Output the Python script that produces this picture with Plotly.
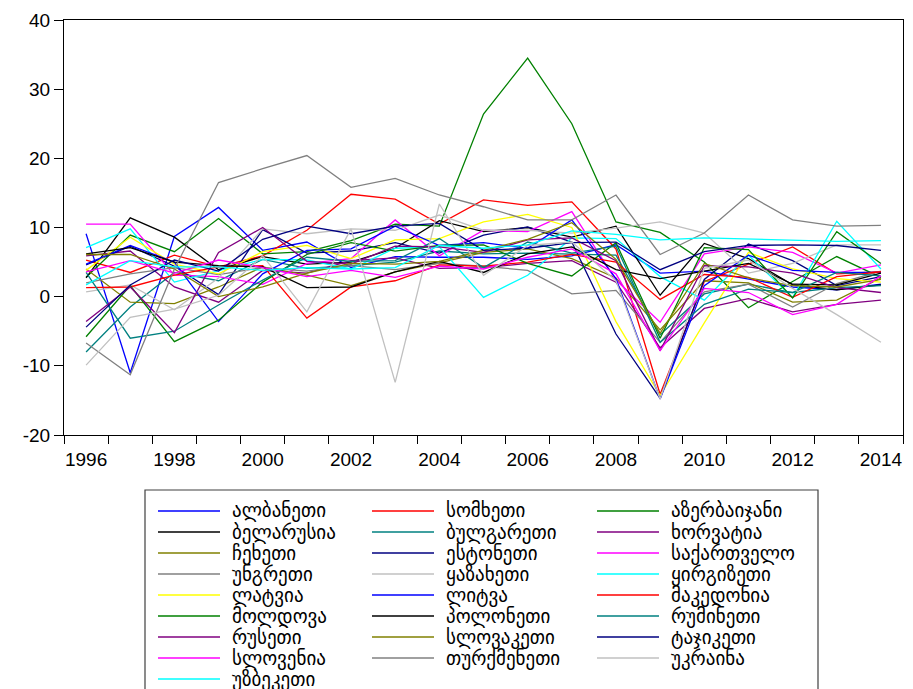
import plotly.graph_objects as go

years = list(range(1996, 2015))

countries = ["ალბანეთი", "სომხეთი", "აზერბაიჯანი", "ბელარუსია", "ბულგარეთი", "ხორვატია",
             "ჩეხეთი", "ესტონეთი", "საქართველო", "უნგრეთი", "ყაზახეთი", "ყირგიზეთი",
             "ლატვია", "ლიტვა", "მაკედონია", "მოლდოვა", "პოლონეთი", "რუმინეთი",
             "რუსეთი", "სლოვაკეთი", "ტაჯიკეთი", "სლოვენია", "თურქმენეთი", "უკრაინა",
             "უზბეკეთი"]

palette = ["#0000FF", "#FF0000", "#008000", "#000000", "#008080", "#800080", "#808000",
           "#000080", "#FF00FF", "#808080", "#C0C0C0", "#00FFFF", "#FFFF00"]

albania = [9.1, -11.0, 8.7, 12.9, 6.7, 7.9, 4.2, 5.8, 5.7, 5.7, 5.4, 5.9, 7.5, 3.4, 3.7, 2.5, 1.4, 1.0, 1.8]
armenia = [5.3, 3.5, 6.0, 4.3, 5.9, 9.6, 14.8, 14.1, 10.5, 14.0, 13.2, 13.7, 6.9, -14.1, 2.2, 4.7, 7.2, 3.3, 3.6]
azerbaijan = [2.8, 8.9, 6.5, 11.3, 6.2, 6.5, 8.1, 10.5, 10.2, 26.4, 34.5, 25.0, 10.8, 9.3, 5.0, -1.6, 2.2, 5.8, 2.8]
belarus = [2.7, 11.4, 8.6, 3.9, 5.8, 4.7, 5.0, 7.0, 11.0, 9.4, 10.0, 8.6, 10.2, 0.2, 7.7, 5.5, 1.7, 1.0, 1.7]
bulgaria = [-8.0, -1.5, 3.5, 2.3, 5.4, 4.1, 4.5, 5.0, 6.6, 6.2, 6.3, 6.2, 6.0, -5.5, 0.4, 1.8, 0.6, 1.3, 1.6]
croatia = [5.9, 6.6, 1.4, -0.8, 3.8, 3.4, 5.2, 5.6, 4.1, 4.2, 4.8, 5.2, 2.1, -7.4, -1.7, -0.3, -2.2, -1.1, -0.5]
czech = [4.0, -0.8, -1.0, 1.4, 4.3, 3.1, 1.6, 3.6, 4.9, 6.4, 6.9, 5.5, 2.7, -4.8, 2.3, 2.0, -0.8, -0.5, 2.7]
estonia = [4.6, 7.3, 4.4, 0.3, 9.7, 6.3, 6.6, 7.8, 6.3, 8.9, 10.1, 7.9, -5.4, -14.7, 2.5, 7.6, 5.2, 1.6, 2.9]
georgia = [10.5, 10.5, 3.1, 2.9, 1.8, 4.8, 5.5, 11.1, 5.9, 9.6, 9.4, 12.3, 2.4, -3.7, 6.2, 7.2, 6.4, 3.4, 4.6]
hungary = [2.0, 3.3, 4.2, 3.2, 4.2, 3.7, 4.5, 3.9, 4.8, 4.4, 3.8, 0.4, 0.9, -6.6, 0.7, 1.8, -1.5, 1.9, 3.7]
kazakhstan = [0.7, 1.7, -1.9, 2.7, 9.8, 9.1, 9.8, 9.6, 11.8, 9.6, 9.6, 9.2, 9.9, 10.8, 9.2, 3.4, 4.8, 7.5, 7.5]
kyrgyzstan = [7.1, 9.8, 2.1, 3.7, 5.4, 5.3, 4.0, 7.0, 7.2, -0.1, 3.1, 8.5, 8.4, 2.9, -0.5, 6.0, -0.1, 10.9, 4.0]
latvia = [3.8, 8.6, 4.7, 3.3, 6.5, 7.4, 5.5, 8.2, 8.4, 10.8, 11.9, 10.0, -3.6, -14.3, -3.8, 6.4, 4.0, 2.6, 2.1]
lithuania = [4.7, 7.4, 5.0, -3.6, 3.3, 6.7, 6.9, 10.2, 7.4, 7.8, 7.0, 11.1, 2.6, -14.8, 1.6, 6.0, 3.8, 3.5, 3.5]
macedonia = [1.3, 1.4, 3.1, 4.3, 4.5, -3.1, 1.4, 2.3, 4.6, 4.4, 5.0, 6.1, 5.0, -0.4, 3.2, 2.8, -0.1, 2.9, 3.6]
moldova = [-5.8, 1.6, -6.5, -3.4, 2.1, 6.1, 7.8, 6.6, 7.4, 7.5, 4.8, 3.0, 7.8, -6.0, 7.1, 6.8, -0.2, 9.4, 4.8]
poland = [6.2, 7.1, 5.0, 4.5, 4.3, 1.3, 1.4, 3.6, 5.1, 3.5, 6.2, 7.2, 3.9, 2.6, 3.7, 4.8, 1.8, 1.7, 3.4]
romania = [3.5, -6.0, -5.0, -1.2, 2.4, 5.7, 5.1, 5.2, 8.4, 4.2, 7.9, 6.3, 7.3, -6.6, -1.1, 1.1, 0.6, 3.5, 3.0]
russia = [-3.6, 1.4, -5.2, 6.4, 10.0, 5.1, 4.7, 7.3, 7.2, 6.4, 8.2, 8.5, 5.2, -7.8, 4.5, 4.3, 3.4, 1.3, 0.6]
slovakia = [6.1, 6.1, 4.0, 0.0, 1.4, 3.4, 4.8, 4.7, 5.1, 6.7, 8.3, 10.7, 5.4, -5.3, 4.8, 2.7, 1.6, 1.4, 2.5]
tajikistan = [-4.4, 1.7, 5.3, 3.7, 8.3, 10.2, 9.1, 10.2, 10.6, 6.7, 7.0, 7.8, 7.9, 3.9, 6.5, 7.4, 7.5, 7.4, 6.7]
slovenia = [3.6, 5.2, 3.4, 5.3, 4.2, 2.9, 3.8, 2.8, 4.4, 4.0, 5.7, 6.9, 3.3, -7.8, 1.2, 0.6, -2.6, -1.1, 3.0]
turkmenistan = [-6.7, -11.3, 4.0, 16.5, 18.5, 20.4, 15.8, 17.1, 14.7, 13.0, 11.1, 11.1, 14.7, 6.1, 9.2, 14.7, 11.1, 10.2, 10.3]
ukraine = [-9.9, -3.0, -1.8, 0.2, 5.9, -2.2, 9.8, -12.4, 13.4, 3.1, 7.4, 7.9, 2.3, -14.8, 4.1, 5.3, 1.2, -2.6, -6.6]
uzbekistan = [1.7, 5.2, 4.3, 4.3, 3.8, 4.2, 4.0, 4.2, 7.4, 7.0, 7.5, 9.5, 9.0, 8.2, 8.5, 8.3, 8.2, 8.0, 8.1]

series = [albania, armenia, azerbaijan, belarus, bulgaria, croatia, czech, estonia, georgia,
          hungary, kazakhstan, kyrgyzstan, latvia, lithuania, macedonia, moldova, poland,
          romania, russia, slovakia, tajikistan, slovenia, turkmenistan, ukraine, uzbekistan]

xtick_vals = list(range(1996, 2015, 2))
xtick_labels = [str(y) for y in xtick_vals]
ytick_vals = [-20, -10, 0, 10, 20, 30, 40]
ytick_labels = ["-20", "-10", "0", "10", "20", "30", "40"]

W, H = 913, 689
OFF = 8  # page body margin offset
# target plot box in window pixels: x 64..903, y 20..435
PL, PR, PT, PB = 64, 903, 20, 435
ML, MT = PL - OFF, PT - OFF
PW, PH = PR - PL, PB - PT
MR, MB = W - ML - PW, H - MT - PH


def px_x(px):
    return (px - PL) / PW


def px_y(py):
    return (PB - py) / PH


fig = go.Figure()
for i, (name, vals) in enumerate(zip(countries, series)):
    fig.add_trace(go.Scatter(x=years, y=vals, mode="lines", name=name,
                             line=dict(color=palette[i % len(palette)], width=1.3),
                             showlegend=False))

shapes = []
annotations = []
# legend frame
shapes.append(dict(type="rect", xref="paper", yref="paper",
                   x0=px_x(145), x1=px_x(818), y0=px_y(705), y1=px_y(490),
                   line=dict(color="#404040", width=1.2), fillcolor="white", layer="above"))
col_x = [158, 372, 597]
for i, name in enumerate(countries):
    row, col = divmod(i, 3)
    yy = 511 + 21 * row
    x0 = col_x[col]
    shapes.append(dict(type="line", xref="paper", yref="paper",
                       x0=px_x(x0), x1=px_x(x0 + 62), y0=px_y(yy), y1=px_y(yy),
                       line=dict(color=palette[i % len(palette)], width=1.5), layer="above"))
    annotations.append(dict(xref="paper", yref="paper", x=px_x(x0 + 72), y=px_y(yy),
                            text=name, showarrow=False, xanchor="left", yanchor="middle",
                            font=dict(family="DejaVu Sans", size=19, color="black")))

fig.update_layout(
    width=W, height=H,
    margin=dict(l=ML, r=MR, t=MT, b=MB, pad=0, autoexpand=False),
    paper_bgcolor="white", plot_bgcolor="white",
    showlegend=False,
    shapes=shapes, annotations=annotations,
    xaxis=dict(range=[1995.5, 2014.5], tickvals=xtick_vals, ticktext=xtick_labels,
               ticks="", showline=True, mirror=True, linecolor="black", linewidth=1,
               showgrid=False, zeroline=False, ticklabelstandoff=7, automargin=False,
               tickfont=dict(family="Liberation Sans", size=19, color="black"),
               minor=dict(tickvals=[1995.5 + k for k in range(20)], ticks="outside", ticklen=8,
                          tickcolor="black", tickwidth=1, showgrid=False)),
    yaxis=dict(range=[-20, 40], tickvals=ytick_vals, ticktext=ytick_labels,
               ticks="outside", ticklen=9, tickcolor="black",
               showline=True, mirror=True, linecolor="black", linewidth=1,
               showgrid=False, zeroline=False, automargin=False,
               tickfont=dict(family="Liberation Sans", size=19, color="black")),
)

fig.write_html("out.html")
